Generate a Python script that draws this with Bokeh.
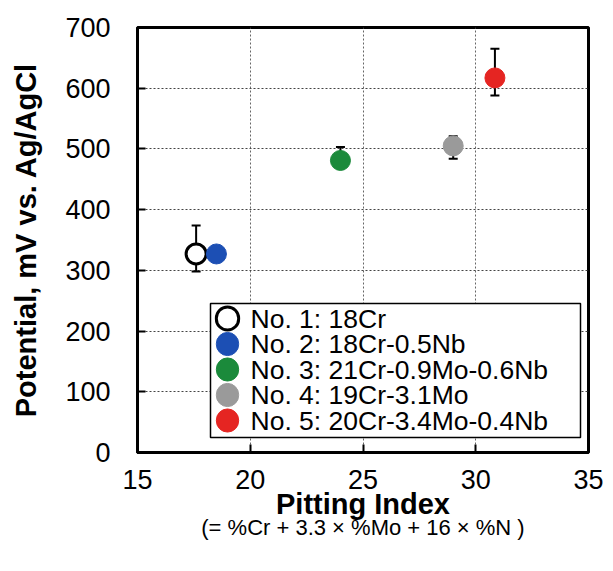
from bokeh.plotting import figure
from bokeh.models import (ColumnDataSource, Range1d, Whisker, TeeHead,
                          FixedTicker, Label, BoxAnnotation, LinearAxis)
from bokeh.embed import file_html
from bokeh.resources import INLINE

# ---- data ----
labels = ["No. 1: 18Cr", "No. 2: 18Cr-0.5Nb", "No. 3: 21Cr-0.9Mo-0.6Nb",
          "No. 4: 19Cr-3.1Mo", "No. 5: 20Cr-3.4Mo-0.4Nb"]
pitting_index = [17.6, 18.5, 24.0, 29.0, 30.85]
potential = [327, 327, 481, 505, 617]
err_upper = [374, 327, 503, 521, 665]
err_lower = [298, 327, 470, 484, 588]
fill_colors = ["white", "#1c4fb4", "#1b8a3b", "#9a9a9a", "#e52522"]
line_colors = ["black", "#1c4fb4", "#1b8a3b", "#9a9a9a", "#e52522"]
x_ticks = [15, 20, 25, 30, 35]
y_ticks = [0, 100, 200, 300, 400, 500, 600, 700]
subtitle = "(= %Cr + 3.3 × %Mo + 16 × %N )"

FONT = "Liberation Sans"

p = figure(width=605, height=555, output_backend="svg", toolbar_location=None,
           x_range=Range1d(15, 35), y_range=Range1d(0, 700),
           min_border_left=137, min_border_right=17, min_border_top=27,
           min_border_bottom=103, frame_width=451, frame_height=425)

p.background_fill_color = "white"
p.border_fill_color = "white"
p.outline_line_color = "black"
p.outline_line_width = 3

# grid
p.xgrid.ticker = FixedTicker(ticks=x_ticks)
p.ygrid.ticker = FixedTicker(ticks=y_ticks)
p.xgrid.grid_line_color = "#666666"
p.xgrid.grid_line_dash = "2 2"
p.xgrid.grid_line_width = 1
p.ygrid.grid_line_color = "#444444"
p.ygrid.grid_line_dash = "2 2"
p.ygrid.grid_line_width = 1

# axes
for ax in (p.xaxis[0], p.yaxis[0]):
    ax.axis_line_color = "black"
    ax.axis_line_width = 3
    ax.major_tick_line_color = "black"
    ax.major_tick_line_width = 2
    ax.major_tick_in = 8
    ax.major_tick_out = 0
    ax.minor_tick_line_color = None
    ax.major_label_text_font = FONT
    ax.major_label_text_font_size = "27px"
    ax.major_label_text_color = "black"
    ax.axis_label_text_font = FONT
    ax.axis_label_text_font_size = "29px"
    ax.axis_label_text_font_style = "bold"
    ax.axis_label_text_color = "black"

p.xaxis.ticker = FixedTicker(ticks=x_ticks)
p.yaxis.ticker = FixedTicker(ticks=y_ticks)
p.xaxis.major_label_standoff = 17
p.yaxis.major_label_standoff = 27
p.xaxis.axis_label = "Pitting Index"
p.yaxis.axis_label = "Potential, mV vs. Ag/AgCl"
p.xaxis.axis_label_standoff = -4
p.yaxis.axis_label_standoff = 20

# subtitle: label of an invisible second bottom axis
sub_axis = LinearAxis(ticker=FixedTicker(ticks=[]), bounds=(15, 33.62),
                      axis_line_color=None, major_tick_line_color=None,
                      minor_tick_line_color=None, major_label_text_font_size="0px",
                      axis_label=subtitle, axis_label_text_font=FONT,
                      axis_label_text_font_size="22px", axis_label_text_font_style="normal",
                      axis_label_text_color="black", axis_label_standoff=-8)
p.add_layout(sub_axis, "below")

# error bars
src_err = ColumnDataSource(dict(x=pitting_index, upper=err_upper, lower=err_lower))
wh = Whisker(source=src_err, base="x", upper="upper", lower="lower",
             line_color="black", line_width=2,
             upper_head=TeeHead(size=9, line_color="black", line_width=2),
             lower_head=TeeHead(size=9, line_color="black", line_width=2))
p.add_layout(wh)

# points
for i in range(len(labels)):
    src = ColumnDataSource(dict(x=[pitting_index[i]], y=[potential[i]]))
    p.scatter("x", "y", source=src, size=20, marker="circle",
              fill_color=fill_colors[i], line_color=line_colors[i],
              line_width=3 if i == 0 else 1)

# legend (drawn manually in screen units relative to the frame)
LEG_LEFT, LEG_RIGHT, LEG_BOTTOM, LEG_TOP = 73, 443, 15, 149
p.add_layout(BoxAnnotation(left=LEG_LEFT, right=LEG_RIGHT, bottom=LEG_BOTTOM, top=LEG_TOP,
                           left_units="screen", right_units="screen",
                           bottom_units="screen", top_units="screen",
                           fill_color="white", fill_alpha=1.0,
                           line_color="black", line_width=1.5, line_alpha=1.0))
row_y = [134, 108.5, 83, 57.5, 32]
for i in range(len(labels)):
    p.add_layout(Label(x=90, y=row_y[i], x_units="screen", y_units="screen",
                       text=" ", text_font_size="1px", text_align="center",
                       text_baseline="middle", padding=11, border_radius=12,
                       background_fill_color=fill_colors[i], background_fill_alpha=1.0,
                       border_line_color=line_colors[i],
                       border_line_width=3 if i == 0 else 1))
    p.add_layout(Label(x=113, y=row_y[i], x_units="screen", y_units="screen",
                       text=labels[i], text_font=FONT, text_font_size="26.5px",
                       text_color="black", text_align="left", text_baseline="middle"))

open("out.html", "w").write(file_html(p, INLINE))
